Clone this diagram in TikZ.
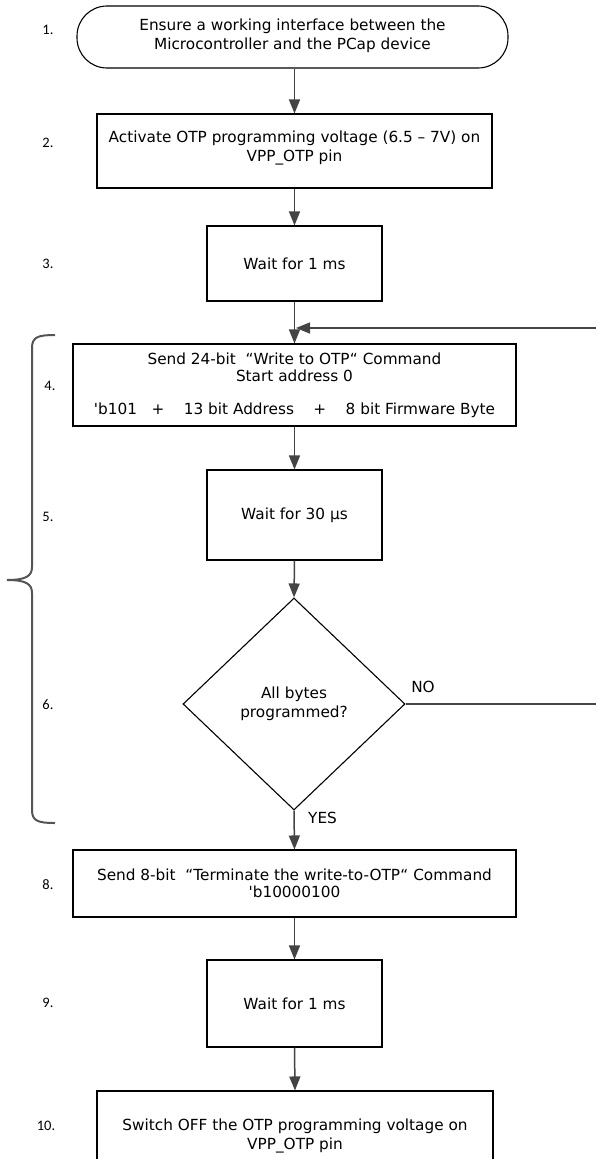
\documentclass[tikz,border=0pt]{standalone}
\usepackage{fontspec}
\setmainfont{DejaVu Sans}[Ligatures=TeXOff]
\newfontfamily\numfont{Carlito}
\usetikzlibrary{shapes.geometric,arrows.meta}
\definecolor{arrowgray}{HTML}{444444}
\definecolor{bracegray}{HTML}{555555}
\tikzset{
  box/.style={draw=black, line width=1.1pt, rectangle, inner sep=0pt, align=center, font=\fontsize{15.3}{19}\selectfont},
  term/.style={box, rounded corners=30pt},
  decide/.style={draw=black, line width=1.1pt, diamond, inner sep=0pt, align=center, font=\fontsize{15.3}{19}\selectfont},
  arr/.style={draw=arrowgray, line width=1.5pt, -{Triangle[length=14pt,width=11pt]}},
  num/.style={font=\numfont\fontsize{14.5}{16}\selectfont, inner sep=0pt},
  lab/.style={font=\fontsize{15.3}{18}\selectfont, inner sep=0pt},
}
\begin{document}
\begin{tikzpicture}[x=1pt,y=-1pt]
\useasboundingbox (0,0) rectangle (596,1159);
\fill[white] (0,0) rectangle (596,1159);

\node[term, minimum width=431pt, minimum height=62pt] (b1) at (292.5,37) {Ensure a working interface between the\\Microcontroller and the PCap device\\[-14pt]\mbox{}};
\node[box, minimum width=395pt, minimum height=74pt] (b2) at (294.5,151) {Activate OTP programming voltage (6.5 – 7V) on\\VPP\_OTP pin\\[-10pt]\mbox{}};
\node[box, minimum width=175pt, minimum height=75pt] (b3) at (294.5,263.5) {Wait for 1 ms};
\node[box, minimum width=443pt, minimum height=82pt] (b4) at (294.5,385) {Send 24-bit\ \ “Write to OTP“ Command\\[-2pt]Start address 0\\[14pt]'b101\ \ \ +\ \ \ \ 13 bit Address\ \ \ \ +\ \ \ \ 8 bit Firmware Byte};
\node[box, minimum width=175pt, minimum height=90pt] (b5) at (294.5,515) {Wait for 30 µs};
\node[decide, minimum width=222pt, minimum height=212pt] (d6) at (294,704) {All bytes\\programmed?};
\node[box, minimum width=443pt, minimum height=67pt] (b8) at (294.5,883.5) {Send 8-bit\ \ “Terminate the write-to-OTP“ Command\\[-2pt]'b10000100};
\node[box, minimum width=175pt, minimum height=87pt] (b9) at (294.5,1003.5) {Wait for 1 ms};
\node[box, minimum width=396pt, minimum height=90pt] (b10) at (295,1136) {Switch OFF the OTP programming voltage on\\VPP\_OTP pin};

\node[num] (n1) at (48,30) {1.};
\node[num] (n2) at (48,143) {2.};
\node[num] (n3) at (48,264) {3.};
\node[num] (n4) at (50,386) {4.};
\node[num] (n5) at (48,517) {5.};
\node[num] (n6) at (48,705) {6.};
\node[num] (n8) at (48,885) {8.};
\node[num] (n9) at (48,1003) {9.};
\node[num] (n10) at (46,1126) {10.};

\node[lab] (no) at (423,687) {NO};
\node[lab, anchor=west] (yes) at (308,818) {YES};

\draw[arr] (b1.south -| b2.north) -- (b2.north);
\draw[arr] (b2.south) -- (b3.north);
\draw[arr] (b3.south) -- (b4.north);
\draw[arr] (b4.south) -- (b5.north);
\draw[arr] (b5.south) -- (d6.north);
\draw[arr] (d6.south) -- (b8.north);
\draw[arr] (b8.south) -- (b9.north);
\draw[arr] (b9.south) -- (b10.north);

\coordinate (merge) at (296,328);
\coordinate (rt) at (602,0);
\draw[arr] (d6.east) -- (d6.east -| rt) |- (merge);

\draw[bracegray, line width=2pt] (55,335) .. controls (38,335) and (32,337) .. (32,348) -- (32,567)
  .. controls (32,576) and (26,580) .. (7,580)
  .. controls (26,580) and (32,584) .. (32,593) -- (32,810)
  .. controls (32,821) and (38,823) .. (55,823);
\end{tikzpicture}
\end{document}
